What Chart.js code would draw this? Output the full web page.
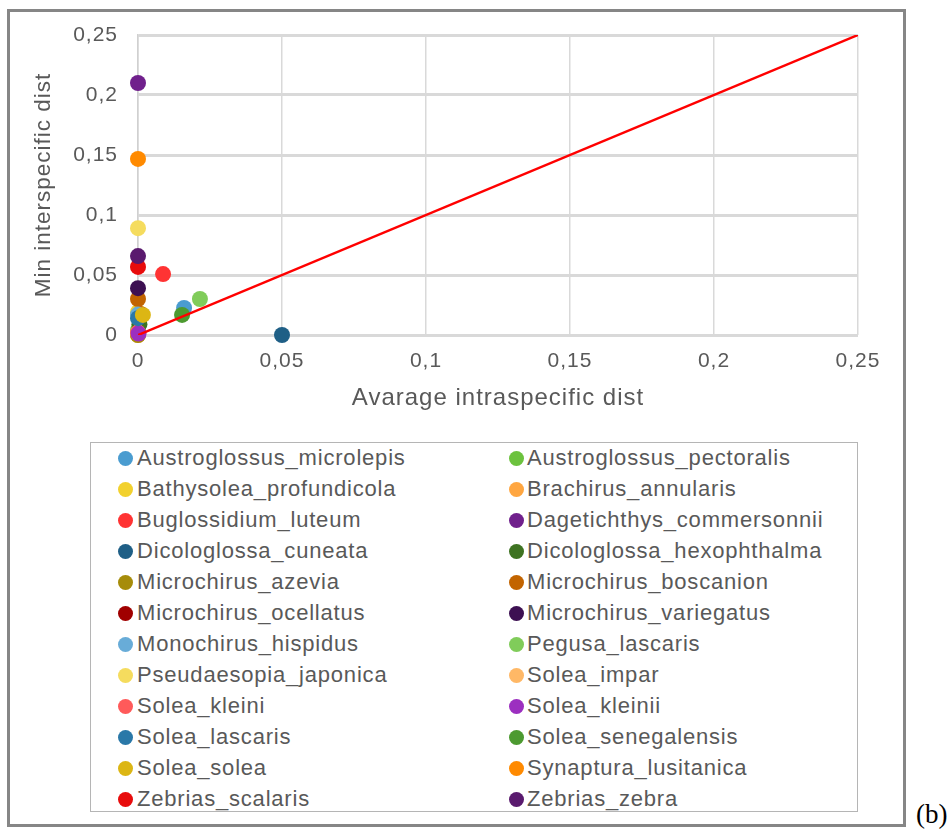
<!DOCTYPE html>
<html>
<head>
<meta charset="utf-8">
<script src="https://cdn.jsdelivr.net/npm/chart.js@4"></script>
<style>
  html, body { margin: 0; padding: 0; background: #ffffff; }
  body { width: 948px; height: 833px; position: relative; overflow: hidden; font-family: "Liberation Sans", Arial, sans-serif; }
  #frame { position: absolute; left: 7px; top: 9px; width: 899px; height: 818px; box-sizing: border-box; border: 3px solid #868686; }
  #chartBox { position: absolute; left: 0; top: 0; width: 948px; height: 420px; }
  #legend { position: absolute; left: 90px; top: 442px; width: 768px; height: 370px; box-sizing: border-box; border: 1px solid #b5b5b5; }
  .item { position: absolute; height: 26px; line-height: 26px; font-size: 22px; color: #595959; letter-spacing: 0.8px; white-space: nowrap; }
  .dot { position: absolute; width: 15px; height: 15px; border-radius: 50%; }
  #tag { position: absolute; left: 916px; top: 801px; font-family: "Liberation Serif", "DejaVu Serif", serif; font-size: 27px; color: #000; line-height: 1; }
</style>
</head>
<body>
<div id="frame"></div>
<div id="chartBox"><canvas id="c"></canvas></div>
<div id="legend"></div>
<div id="tag">(b)</div>
<script>
const species = [
  "Austroglossus_microlepis", "Austroglossus_pectoralis",
  "Bathysolea_profundicola", "Brachirus_annularis",
  "Buglossidium_luteum", "Dagetichthys_commersonnii",
  "Dicologlossa_cuneata", "Dicologlossa_hexophthalma",
  "Microchirus_azevia", "Microchirus_boscanion",
  "Microchirus_ocellatus", "Microchirus_variegatus",
  "Monochirus_hispidus", "Pegusa_lascaris",
  "Pseudaesopia_japonica", "Solea_impar",
  "Solea_kleini", "Solea_kleinii",
  "Solea_lascaris", "Solea_senegalensis",
  "Solea_solea", "Synaptura_lusitanica",
  "Zebrias_scalaris", "Zebrias_zebra"
];
// Average intraspecific distance (x)
const avgIntra = [
  0.016, 0, 0, 0, 0.0087, 0, 0.05, 0.0005,
  0, 0, 0.0012, 0, 0, 0.0215, 0, 0,
  0, 0.0002, 0, 0.0153, 0.0017, 0, 0, 0
];
// Minimum interspecific distance (y)
const minInter = [
  0.0225, 0.004, 0.019, 0, 0.0508, 0.21, 0, 0.009,
  0, 0.030, 0.017, 0.039, 0.017, 0.030, 0.089, 0.002,
  0.002, 0.0012, 0.014, 0.0167, 0.0167, 0.1467, 0.0567, 0.0658
];
const seriesColors = [
  "#4a9cd0", "#6cc23e", "#f2d12e", "#ffa640", "#ff3333", "#70208c",
  "#1f5f86", "#3e7322", "#a68c0a", "#c26400", "#a00000", "#3d1052",
  "#68acd8", "#80cc5a", "#f5dc5e", "#ffb866", "#ff5a5a", "#9c2fc0",
  "#2a78a8", "#4c9a30", "#dcb614", "#ff8a00", "#e80c0c", "#5a1a6e"
];
const tickValues = [0, 0.05, 0.1, 0.15, 0.2, 0.25];
const tickLabels = ["0", "0,05", "0,1", "0,15", "0,2", "0,25"];
const diagonalX = [0, 0.25];
const diagonalY = [0, 0.25];

const datasets = species.map((name, i) => ({
  label: name,
  data: [{ x: avgIntra[i], y: minInter[i] }],
  backgroundColor: seriesColors[i],
  borderWidth: 0,
  pointRadius: 8,
  clip: false,
  order: -i
}));
datasets.push({
  label: "diagonal",
  type: "line",
  data: diagonalX.map((x, i) => ({ x: x, y: diagonalY[i] })),
  borderColor: "#ff0000",
  borderWidth: 2.5,
  pointRadius: 0,
  showLine: true,
  fill: false,
  order: -100
});

const fmt = (v) => {
  const idx = tickValues.findIndex(t => Math.abs(t - v) < 1e-9);
  return idx >= 0 ? tickLabels[idx] : "";
};

const spacing = {
  id: "spacing",
  beforeLayout(chart) { chart.ctx.letterSpacing = "1px"; },
  beforeDraw(chart) { chart.ctx.letterSpacing = "1px"; }
};

const tickFont = { family: "'Liberation Sans', Arial, sans-serif", size: 21 };
const xTitleFont = { family: "'Liberation Sans', Arial, sans-serif", size: 24 };
const yTitleFont = { family: "'Liberation Sans', Arial, sans-serif", size: 22.5 };

const chart = new Chart(document.getElementById("c"), {
  type: "scatter",
  data: { datasets: datasets },
  plugins: [spacing],
  options: {
    responsive: true,
    maintainAspectRatio: false,
    animation: false,
    events: [],
    layout: { padding: { left: 0, top: 35, right: 90, bottom: 0 } },
    plugins: { legend: { display: false }, tooltip: { enabled: false } },
    scales: {
      x: {
        type: "linear", min: 0, max: 0.25,
        afterBuildTicks(scale) { scale.ticks = tickValues.map(v => ({ value: v })); },
        afterFit(scale) { scale.height = 85; },
        ticks: { callback: fmt, color: "#595959", font: tickFont, padding: 14, maxRotation: 0 },
        grid: { color: "#d9d9d9", lineWidth: 1.5, drawTicks: false },
        border: { display: false },
        title: { display: true, text: "Avarage intraspecific dist", color: "#595959", font: xTitleFont, padding: { top: 0, bottom: 7 } }
      },
      y: {
        type: "linear", min: 0, max: 0.25,
        afterBuildTicks(scale) { scale.ticks = tickValues.map(v => ({ value: v })); },
        afterFit(scale) { scale.width = 138; },
        ticks: { callback: fmt, color: "#595959", font: tickFont, padding: 20 },
        grid: { color: "#d9d9d9", lineWidth: 3, drawTicks: false },
        border: { display: true, color: "#d0d0d0", width: 1.5 },
        title: { display: true, text: "Min interspecific dist", color: "#595959", font: yTitleFont, padding: { top: 30, bottom: 0 } }
      }
    }
  }
});

// HTML legend built from the chart's datasets
const legend = document.getElementById("legend");
chart.data.datasets.filter(d => d.label !== "diagonal").forEach((d, i) => {
  const row = Math.floor(i / 2), col = i % 2;
  const cy = 15 + row * 31;
  const dotX = col === 0 ? 27 : 418;
  const textX = col === 0 ? 46 : 436;
  const dot = document.createElement("div");
  dot.className = "dot";
  dot.style.left = dotX + "px";
  dot.style.top = (cy - 7.5) + "px";
  dot.style.background = d.backgroundColor;
  legend.appendChild(dot);
  const item = document.createElement("div");
  item.className = "item";
  item.style.left = textX + "px";
  item.style.top = (cy - 13) + "px";
  item.textContent = d.label;
  legend.appendChild(item);
});
</script>
</body>
</html>
